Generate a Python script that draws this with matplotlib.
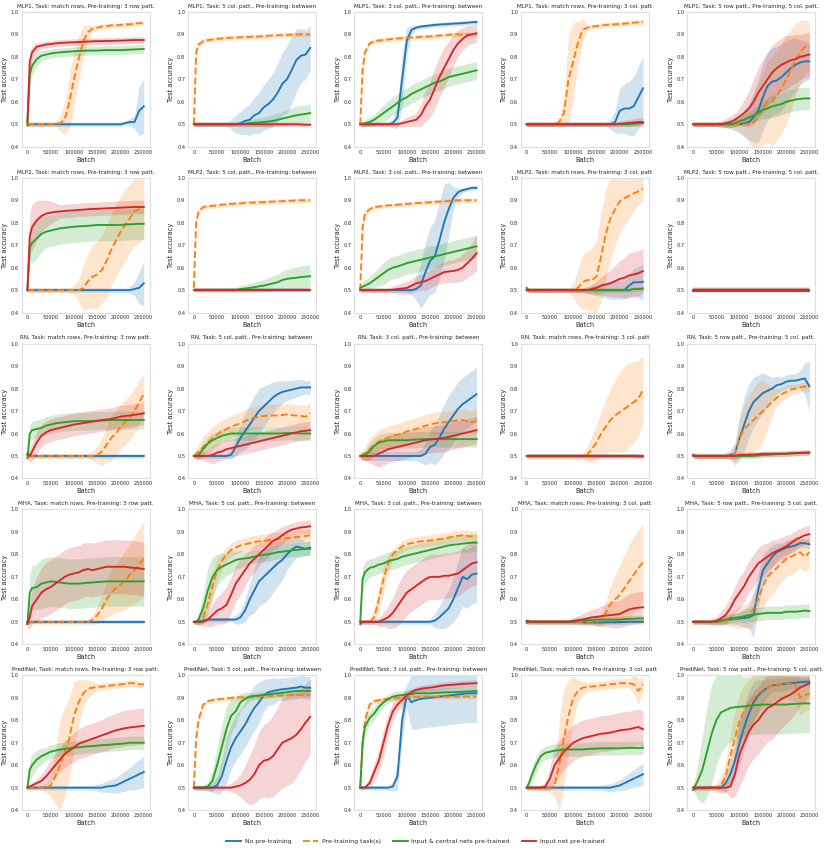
import matplotlib
matplotlib.use("Agg")
import matplotlib.pyplot as plt

batch = [0, 5000, 10000, 20000, 30000, 40000, 50000, 60000, 70000,
         80000, 90000, 100000, 110000, 120000, 130000, 140000, 150000, 160000,
         170000, 180000, 190000, 200000, 210000, 220000, 230000, 240000, 250000]

models = ["MLP1", "MLP2", "RN", "MHA", "PrediNet"]
tasks = ["Task: match rows, Pre-training: 3 row patt.",
         "Task: 5 col. patt., Pre-training: between",
         "Task: 3 col. patt., Pre-training: between",
         "Task: match rows, Pre-training: 3 col. patt",
         "Task: 5 row patt., Pre-training: 5 col. patt."]
series_names = ["No pre-training", "Pre-training task(s)",
                "Input & central nets pre-trained", "Input net pre-trained"]

# each panel: mean accuracy and band half-width for [blue, orange, green, red]
# ---------------- MLP1 ----------------
mlp1_t1_mean = [
    [.495, .5, .5, .5, .5, .5, .5, .5, .5, .5, .5, .5, .5, .5, .5, .5, .5, .5,
     .5, .5, .5, .5, .505, .51, .51, .56, .58],
    [.5, .5, .5, .5, .5, .5, .5, .5, .505, .52, .6, .7, .79, .87, .91, .925, .93, .935,
     .937, .94, .94, .942, .945, .945, .948, .95, .95],
    [.5, .72, .76, .79, .805, .81, .815, .818, .82, .822, .823, .825, .826, .827, .828, .828, .828, .829,
     .83, .83, .83, .83, .831, .832, .833, .834, .835],
    [.51, .78, .82, .845, .85, .855, .857, .86, .862, .863, .864, .865, .866, .867, .868, .869, .87, .87,
     .871, .871, .872, .872, .873, .874, .875, .875, .875]]
mlp1_t1_band = [
    [.01, .01, .01, .01, .01, .01, .01, .01, .01, .01, .01, .01, .01, .01, .01, .01, .01, .01,
     .01, .01, .01, .01, .01, .015, .03, .11, .12],
    [.01, .01, .01, .01, .01, .01, .01, .01, .03, .07, .12, .12, .1, .07, .03, .015, .01, .01,
     .01, .01, .01, .01, .01, .01, .01, .01, .01],
    [.01, .05, .04, .03, .025, .02, .02, .02, .02, .02, .02, .02, .02, .02, .02, .02, .02, .02,
     .02, .02, .02, .02, .02, .02, .02, .02, .02],
    [.01, .04, .03, .02, .015, .015, .015, .015, .015, .015, .015, .015, .015, .015, .015, .015, .015, .015,
     .015, .015, .015, .015, .015, .015, .015, .015, .015]]

mlp1_t2_mean = [
    [.5, .5, .5, .5, .5, .5, .5, .5, .5, .5, .5, .505, .515, .52, .54, .55, .575, .59,
     .61, .64, .68, .7, .74, .785, .805, .81, .84],
    [.5, .82, .855, .87, .875, .877, .88, .882, .884, .885, .886, .887, .888, .889, .89, .891, .892, .894,
     .895, .896, .897, .898, .899, .9, .9, .9, .9],
    [.5, .5, .5, .5, .5, .5, .5, .5, .5, .5, .5, .5, .502, .505, .507, .508, .51, .512,
     .515, .52, .525, .53, .535, .54, .543, .546, .55],
    [.5, .5, .5, .5, .5, .5, .5, .5, .5, .5, .5, .5, .5, .5, .5, .5, .5, .5,
     .5, .5, .5, .5, .5, .5, .499, .498, .498]]
mlp1_t2_band = [
    [.01, .01, .01, .01, .01, .01, .01, .01, .01, .02, .04, .05, .06, .07, .08, .09, .1, .11,
     .12, .13, .14, .15, .15, .14, .12, .11, .1],
    [.02, .02, .01, .01, .01, .01, .01, .01, .01, .01, .01, .01, .01, .01, .01, .01, .01, .01,
     .01, .01, .01, .01, .01, .01, .01, .01, .01],
    [.01, .01, .01, .01, .01, .01, .01, .01, .01, .01, .01, .012, .015, .015, .018, .02, .022, .025,
     .027, .03, .032, .035, .037, .04, .04, .04, .04],
    [.01, .01, .01, .01, .01, .01, .01, .01, .01, .01, .01, .01, .01, .01, .01, .01, .01, .01,
     .01, .01, .01, .01, .01, .01, .01, .01, .01]]

mlp1_t3_mean = [
    [.5, .5, .5, .5, .5, .5, .5, .5, .505, .53, .7, .87, .92, .93, .935, .937, .94, .942,
     .944, .945, .946, .948, .949, .95, .952, .954, .955],
    [.5, .74, .82, .86, .87, .873, .875, .877, .88, .882, .883, .885, .886, .887, .889, .89, .891, .893,
     .895, .896, .898, .9, .9, .9, .9, .9, .9],
    [.5, .502, .505, .51, .52, .535, .55, .565, .58, .595, .61, .62, .635, .645, .655, .665, .675, .685,
     .69, .7, .71, .715, .72, .725, .73, .735, .74],
    [.5, .5, .5, .5, .5, .5, .5, .5, .5, .5, .505, .51, .515, .52, .54, .58, .61, .66,
     .71, .75, .79, .83, .86, .88, .895, .9, .905]]
mlp1_t3_band = [
    [.01, .01, .01, .01, .01, .01, .01, .01, .02, .05, .12, .06, .02, .01, .01, .01, .01, .01,
     .01, .01, .01, .01, .01, .01, .01, .01, .01],
    [.015, .03, .015, .01, .01, .01, .01, .01, .01, .01, .01, .01, .01, .01, .01, .01, .01, .01,
     .01, .01, .01, .01, .01, .01, .01, .01, .01],
    [.01, .01, .015, .02, .025, .03, .035, .04, .04, .04, .04, .04, .04, .04, .04, .04, .04, .04,
     .04, .04, .04, .04, .04, .04, .04, .04, .04],
    [.01, .01, .01, .01, .01, .01, .01, .01, .01, .01, .015, .02, .025, .03, .05, .07, .08, .09,
     .09, .09, .08, .07, .06, .05, .045, .04, .04]]

mlp1_t4_mean = [
    [.5, .5, .5, .5, .5, .5, .5, .5, .5, .5, .5, .5, .5, .5, .5, .5, .5, .5,
     .5, .5, .51, .56, .57, .57, .58, .62, .66],
    [.5, .5, .5, .5, .5, .5, .5, .5, .51, .55, .7, .78, .86, .92, .93, .935, .937, .94,
     .942, .944, .945, .947, .948, .95, .952, .954, .955],
    [.5, .5, .5, .5, .5, .5, .5, .5, .5, .5, .5, .5, .5, .5, .5, .5, .5, .5,
     .5, .5, .5, .5, .5, .5, .502, .504, .505],
    [.5, .5, .5, .5, .5, .5, .5, .5, .5, .5, .5, .5, .5, .5, .5, .5, .5, .5,
     .5, .5, .5, .502, .504, .506, .508, .51, .51]]
mlp1_t4_band = [
    [.01, .01, .01, .01, .01, .01, .01, .01, .01, .01, .01, .01, .01, .01, .01, .01, .01, .01,
     .01, .02, .05, .1, .11, .12, .13, .14, .14],
    [.01, .01, .01, .01, .01, .01, .01, .01, .02, .06, .2, .17, .1, .05, .015, .01, .01, .01,
     .01, .01, .01, .01, .01, .01, .01, .01, .01],
    [.01, .01, .01, .01, .01, .01, .01, .01, .01, .01, .01, .01, .01, .01, .01, .01, .01, .01,
     .01, .01, .01, .01, .01, .01, .01, .01, .01],
    [.01, .01, .01, .01, .01, .01, .01, .01, .01, .01, .01, .01, .01, .01, .01, .01, .01, .01,
     .01, .01, .01, .012, .014, .016, .018, .02, .02]]

mlp1_t5_mean = [
    [.5, .5, .5, .5, .5, .5, .5, .5, .5, .5, .5, .5, .505, .51, .53, .56, .62, .67,
     .69, .695, .71, .73, .75, .765, .775, .78, .78],
    [.5, .5, .5, .5, .5, .5, .5, .5, .5, .5, .5, .5, .5, .5, .51, .53, .57, .6,
     .6, .63, .66, .7, .74, .79, .82, .845, .845],
    [.5, .5, .5, .5, .5, .5, .5, .5, .5, .5, .505, .515, .52, .53, .54, .55, .565, .57,
     .58, .585, .59, .6, .605, .61, .613, .615, .615],
    [.5, .5, .5, .5, .5, .5, .5, .5, .505, .51, .52, .535, .55, .57, .6, .64, .67, .7,
     .73, .75, .765, .775, .785, .79, .8, .805, .81]]
mlp1_t5_band = [
    [.01, .01, .01, .01, .01, .01, .01, .01, .015, .02, .03, .04, .06, .08, .11, .14, .15, .15,
     .15, .15, .15, .14, .13, .12, .1, .09, .08],
    [.01, .01, .01, .01, .01, .01, .01, .01, .01, .01, .02, .03, .05, .08, .12, .15, .16, .18,
     .2, .2, .2, .2, .18, .16, .14, .12, .11],
    [.01, .01, .01, .01, .01, .01, .01, .01, .015, .015, .015, .015, .02, .025, .03, .035, .04, .045,
     .05, .05, .05, .05, .05, .05, .05, .05, .05],
    [.01, .01, .01, .01, .01, .01, .01, .015, .02, .025, .03, .04, .06, .08, .1, .11, .12, .12,
     .12, .12, .12, .12, .11, .11, .1, .1, .1]]

# ---------------- MLP2 ----------------
mlp2_t1_mean = [
    [.5, .5, .5, .5, .5, .5, .5, .5, .5, .5, .5, .5, .5, .5, .5, .5, .5, .5,
     .5, .5, .5, .5, .5, .5, .505, .51, .53],
    [.5, .5, .5, .5, .5, .5, .5, .5, .5, .5, .5, .5, .5, .51, .54, .56, .57, .59,
     .63, .68, .72, .76, .79, .82, .85, .86, .87],
    [.5, .69, .71, .73, .75, .76, .765, .77, .775, .777, .78, .782, .784, .785, .786, .788, .79, .79,
     .79, .79, .79, .79, .792, .793, .794, .795, .795],
    [.5, .74, .78, .81, .83, .84, .845, .848, .85, .852, .854, .855, .857, .858, .86, .861, .862, .863,
     .864, .865, .866, .867, .868, .869, .87, .87, .87]]
mlp2_t1_band = [
    [.01, .01, .01, .01, .01, .01, .01, .01, .01, .01, .01, .01, .01, .01, .01, .01, .01, .01,
     .01, .01, .01, .01, .01, .015, .03, .07, .1],
    [.01, .01, .01, .01, .01, .01, .01, .01, .01, .01, .01, .02, .05, .1, .12, .14, .15, .15,
     .16, .16, .16, .16, .16, .15, .15, .15, .14],
    [.01, .06, .09, .09, .08, .07, .07, .07, .07, .07, .07, .07, .07, .07, .07, .07, .07, .07,
     .07, .07, .07, .07, .07, .07, .07, .07, .07],
    [.01, .1, .1, .09, .07, .06, .05, .04, .03, .03, .03, .03, .03, .03, .03, .03, .03, .03,
     .03, .03, .03, .03, .03, .03, .03, .03, .03]]

mlp2_t2_mean = [
    [.5, .5, .5, .5, .5, .5, .5, .5, .5, .5, .5, .5, .5, .5, .5, .5, .5, .5,
     .5, .5, .5, .5, .5, .5, .5, .5, .5],
    [.51, .8, .85, .87, .873, .875, .877, .88, .882, .884, .885, .886, .888, .889, .89, .891, .892, .893,
     .894, .895, .896, .897, .898, .899, .9, .9, .9],
    [.5, .5, .5, .5, .5, .5, .5, .5, .5, .5, .5, .505, .507, .51, .513, .517, .52, .525,
     .53, .535, .545, .55, .553, .555, .558, .56, .562],
    [.5, .5, .5, .5, .5, .5, .5, .5, .5, .5, .5, .5, .5, .5, .5, .5, .5, .5,
     .5, .5, .5, .5, .5, .5, .5, .5, .5]]
mlp2_t2_band = [
    [.01, .01, .01, .01, .01, .01, .01, .01, .01, .01, .01, .01, .01, .01, .01, .01, .01, .01,
     .01, .01, .01, .01, .01, .01, .01, .01, .01],
    [.02, .02, .01, .01, .01, .01, .01, .01, .01, .01, .01, .01, .01, .01, .01, .01, .01, .01,
     .01, .01, .01, .01, .01, .01, .01, .01, .01],
    [.01, .01, .01, .01, .01, .01, .01, .01, .01, .01, .012, .015, .017, .02, .022, .025, .028, .03,
     .033, .036, .04, .042, .045, .048, .05, .05, .05],
    [.01, .01, .01, .01, .01, .01, .01, .01, .01, .01, .01, .01, .01, .01, .01, .01, .01, .01,
     .01, .01, .01, .01, .01, .01, .01, .01, .01]]

mlp2_t3_mean = [
    [.5, .5, .5, .5, .5, .5, .5, .5, .5, .5, .5, .5, .5, .505, .52, .58, .63, .65,
     .72, .8, .86, .91, .935, .945, .95, .955, .955],
    [.5, .78, .84, .86, .87, .872, .875, .877, .878, .88, .882, .884, .885, .887, .888, .89, .891, .893,
     .894, .895, .897, .898, .9, .9, .9, .9, .9],
    [.51, .515, .52, .53, .545, .56, .575, .59, .6, .605, .612, .62, .625, .63, .635, .64, .645, .65,
     .655, .66, .665, .67, .675, .68, .685, .69, .695],
    [.5, .5, .5, .5, .5, .5, .5, .5, .502, .505, .507, .51, .52, .53, .535, .54, .55, .56,
     .57, .58, .583, .585, .59, .6, .62, .64, .665]]
mlp2_t3_band = [
    [.01, .01, .01, .01, .01, .01, .01, .01, .01, .01, .01, .01, .02, .05, .1, .13, .15, .16,
     .17, .17, .12, .05, .02, .01, .01, .01, .01],
    [.015, .03, .015, .01, .01, .01, .01, .01, .01, .01, .01, .01, .01, .01, .01, .01, .01, .01,
     .01, .01, .01, .01, .01, .01, .01, .01, .01],
    [.015, .02, .025, .03, .035, .04, .05, .05, .05, .05, .05, .05, .05, .05, .05, .05, .05, .05,
     .05, .05, .05, .05, .05, .05, .05, .05, .05],
    [.01, .01, .01, .01, .01, .01, .01, .01, .015, .02, .025, .03, .03, .035, .035, .04, .04, .04,
     .045, .045, .05, .05, .055, .06, .065, .07, .08]]

mlp2_t4_mean = [
    [.5, .5, .5, .5, .5, .5, .5, .5, .5, .5, .5, .5, .5, .5, .5, .5, .5, .5,
     .5, .5, .5, .5, .5, .52, .535, .535, .537],
    [.5, .5, .5, .5, .5, .5, .5, .5, .5, .5, .5, .5, .51, .535, .545, .545, .56, .65,
     .75, .82, .86, .895, .91, .92, .93, .94, .95],
    [.51, .5, .5, .5, .5, .5, .5, .5, .5, .5, .5, .5, .5, .5, .5, .5, .5, .5,
     .5, .5, .5, .5, .5, .5, .505, .505, .507],
    [.5, .5, .5, .5, .5, .5, .5, .5, .5, .5, .5, .5, .5, .5, .5, .505, .51, .52,
     .525, .53, .54, .55, .555, .565, .57, .575, .585]]
mlp2_t4_band = [
    [.01, .01, .01, .01, .01, .01, .01, .01, .01, .01, .01, .01, .01, .01, .015, .02, .025, .03,
     .035, .04, .04, .04, .04, .05, .06, .07, .08],
    [.01, .01, .01, .01, .01, .01, .01, .01, .01, .01, .01, .03, .08, .12, .13, .14, .16, .2,
     .2, .18, .16, .14, .12, .1, .08, .06, .05],
    [.01, .01, .01, .01, .01, .01, .01, .01, .01, .01, .01, .01, .01, .01, .01, .01, .01, .01,
     .01, .01, .01, .01, .01, .01, .01, .01, .01],
    [.01, .01, .01, .01, .01, .01, .01, .01, .01, .01, .01, .01, .01, .01, .015, .02, .03, .04,
     .05, .06, .07, .08, .09, .1, .1, .1, .1]]

mlp2_t5_mean = [
    [.498, .498, .498, .498, .498, .498, .498, .498, .498, .498, .498, .498, .498, .498, .498, .498, .498, .498,
     .498, .498, .498, .498, .498, .498, .498, .498, .498],
    [.5, .5, .5, .5, .5, .5, .5, .5, .5, .5, .5, .5, .5, .5, .5, .5, .5, .5,
     .5, .5, .5, .5, .5, .5, .5, .5, .5],
    [.502, .502, .502, .502, .502, .502, .502, .502, .502, .502, .502, .502, .502, .502, .502, .502, .502, .502,
     .502, .502, .502, .502, .502, .502, .502, .502, .502],
    [.5, .5, .5, .5, .5, .5, .5, .5, .5, .5, .5, .5, .5, .5, .5, .5, .5, .5,
     .5, .5, .5, .5, .5, .5, .5, .5, .5]]
mlp2_t5_band = [
    [.01, .01, .01, .01, .01, .01, .01, .01, .01, .01, .01, .01, .01, .01, .01, .01, .01, .01,
     .01, .01, .01, .01, .01, .01, .01, .01, .01],
    [.01, .01, .01, .01, .01, .01, .01, .01, .01, .01, .01, .01, .01, .01, .01, .01, .01, .01,
     .01, .01, .01, .01, .01, .01, .01, .01, .01],
    [.01, .01, .01, .01, .01, .01, .01, .01, .01, .01, .01, .01, .01, .01, .01, .01, .01, .01,
     .01, .01, .01, .01, .01, .01, .01, .01, .01],
    [.01, .01, .01, .01, .01, .01, .01, .01, .01, .01, .01, .01, .01, .01, .01, .01, .01, .01,
     .01, .01, .01, .01, .01, .01, .01, .01, .01]]

# ---------------- RN ----------------
rn_t1_mean = [
    [.505, .505, .5, .5, .5, .5, .5, .5, .5, .5, .5, .5, .5, .5, .5, .5, .5, .5,
     .5, .5, .5, .5, .5, .5, .5, .5, .5],
    [.5, .5, .5, .5, .5, .5, .5, .5, .5, .5, .5, .5, .5, .5, .5, .5, .505, .52,
     .55, .58, .6, .63, .65, .67, .7, .74, .775],
    [.49, .6, .615, .62, .625, .635, .64, .645, .648, .65, .652, .655, .655, .655, .655, .656, .657, .658,
     .659, .66, .66, .66, .66, .66, .66, .66, .66],
    [.51, .5, .52, .56, .59, .605, .615, .62, .625, .63, .635, .64, .643, .646, .65, .653, .656, .66,
     .662, .665, .67, .675, .678, .68, .683, .686, .69]]
rn_t1_band = [
    [.01, .01, .01, .01, .01, .01, .01, .01, .01, .01, .01, .01, .01, .01, .01, .01, .01, .01,
     .01, .01, .01, .01, .01, .01, .01, .01, .01],
    [.01, .01, .01, .01, .01, .01, .01, .01, .01, .01, .01, .01, .01, .01, .01, .02, .04, .06,
     .08, .1, .1, .1, .1, .1, .1, .095, .09],
    [.02, .04, .04, .04, .04, .04, .04, .04, .04, .04, .04, .04, .04, .04, .04, .04, .04, .04,
     .04, .04, .04, .04, .04, .04, .04, .04, .04],
    [.02, .03, .04, .05, .05, .05, .05, .05, .05, .05, .05, .05, .05, .05, .05, .05, .05, .05,
     .05, .05, .05, .05, .05, .05, .05, .05, .05]]

rn_t2_mean = [
    [.5, .5, .5, .5, .5, .5, .5, .5, .5, .505, .54, .58, .61, .64, .67, .7, .72, .74,
     .76, .775, .785, .79, .795, .8, .805, .805, .805],
    [.5, .51, .52, .54, .56, .58, .595, .61, .62, .63, .638, .645, .655, .665, .67, .675, .678, .68,
     .68, .68, .682, .685, .682, .68, .678, .675, .69],
    [.5, .5, .505, .53, .555, .57, .58, .59, .595, .6, .6, .6, .6, .6, .6, .6, .6, .6,
     .6, .6, .601, .602, .602, .601, .6, .6, .6],
    [.5, .5, .5, .5, .5, .505, .515, .52, .53, .535, .54, .545, .55, .555, .56, .565, .57, .575,
     .58, .585, .59, .595, .6, .605, .61, .612, .615]]
rn_t2_band = [
    [.01, .01, .01, .01, .01, .01, .01, .01, .01, .02, .04, .06, .08, .09, .1, .1, .09, .08,
     .07, .06, .05, .045, .04, .04, .035, .03, .03],
    [.01, .02, .03, .05, .05, .05, .05, .05, .05, .05, .05, .05, .05, .05, .05, .05, .05, .05,
     .05, .05, .05, .05, .05, .05, .05, .05, .05],
    [.01, .01, .02, .03, .03, .03, .03, .03, .03, .03, .03, .03, .03, .03, .03, .03, .03, .03,
     .03, .03, .03, .03, .03, .03, .03, .03, .03],
    [.01, .01, .015, .02, .025, .04, .04, .04, .04, .04, .04, .04, .04, .04, .04, .04, .04, .04,
     .04, .04, .04, .04, .04, .04, .04, .04, .04]]

rn_t3_mean = [
    [.5, .5, .5, .5, .5, .5, .5, .5, .5, .5, .5, .5, .5, .5, .5, .51, .54, .55,
     .58, .62, .65, .68, .71, .73, .745, .76, .775],
    [.5, .505, .51, .53, .55, .565, .575, .582, .59, .595, .6, .61, .615, .62, .628, .635, .64, .645,
     .648, .65, .652, .655, .658, .66, .655, .65, .655],
    [.5, .5, .505, .52, .545, .56, .565, .57, .57, .57, .57, .57, .572, .573, .574, .575, .575, .575,
     .575, .575, .575, .575, .575, .575, .575, .575, .575],
    [.5, .5, .5, .5, .5, .51, .52, .53, .535, .54, .545, .55, .555, .56, .565, .57, .573, .575,
     .578, .58, .585, .59, .595, .6, .605, .61, .615]]
rn_t3_band = [
    [.02, .02, .02, .02, .02, .02, .02, .02, .02, .02, .02, .02, .02, .02, .03, .05, .07, .09,
     .1, .11, .12, .12, .12, .12, .12, .12, .12],
    [.01, .02, .03, .05, .05, .05, .05, .05, .05, .05, .05, .05, .05, .05, .05, .05, .05, .05,
     .05, .05, .05, .05, .05, .05, .05, .05, .05],
    [.01, .01, .02, .035, .035, .035, .035, .035, .035, .035, .035, .035, .035, .035, .035, .035, .035, .035,
     .035, .035, .035, .035, .035, .035, .035, .035, .035],
    [.01, .015, .02, .03, .04, .06, .06, .06, .06, .06, .06, .06, .06, .06, .06, .06, .06, .06,
     .06, .06, .06, .06, .06, .06, .06, .06, .06]]

rn_t4_mean = [
    [.5, .5, .5, .5, .5, .5, .5, .5, .5, .5, .5, .5, .5, .5, .5, .5, .5, .5,
     .5, .5, .5, .5, .5, .5, .5, .5, .5],
    [.5, .5, .5, .5, .5, .5, .5, .5, .5, .5, .5, .5, .5, .5, .505, .53, .56, .6,
     .63, .66, .68, .695, .71, .725, .74, .755, .795],
    [.5, .5, .5, .5, .5, .5, .5, .5, .5, .5, .5, .5, .5, .5, .5, .5, .5, .5,
     .5, .5, .5, .5, .5, .5, .5, .5, .5],
    [.5, .5, .5, .5, .5, .5, .5, .5, .5, .5, .5, .5, .5, .5, .5, .5, .5, .5,
     .5, .5, .5, .5, .5, .5, .5, .498, .498]]
rn_t4_band = [
    [.01, .01, .01, .01, .01, .01, .01, .01, .01, .01, .01, .01, .01, .01, .01, .01, .01, .01,
     .01, .01, .01, .01, .01, .01, .01, .01, .01],
    [.01, .01, .01, .01, .01, .01, .01, .01, .01, .01, .01, .01, .01, .015, .03, .06, .08, .1,
     .12, .14, .16, .18, .19, .19, .18, .17, .15],
    [.01, .01, .01, .01, .01, .01, .01, .01, .01, .01, .01, .01, .01, .01, .01, .01, .01, .01,
     .01, .01, .01, .01, .01, .01, .01, .01, .01],
    [.01, .01, .01, .01, .01, .01, .01, .01, .01, .01, .01, .01, .01, .01, .01, .01, .01, .01,
     .01, .01, .01, .01, .01, .01, .01, .01, .01]]

rn_t5_mean = [
    [.5, .5, .5, .5, .5, .5, .5, .5, .5, .505, .51, .58, .64, .7, .74, .76, .78, .79,
     .8, .815, .82, .83, .835, .835, .84, .845, .81],
    [.5, .5, .5, .5, .5, .5, .5, .5, .5, .505, .51, .58, .62, .64, .66, .68, .7, .72,
     .74, .76, .775, .785, .795, .8, .805, .81, .805],
    [.5, .5, .5, .5, .5, .5, .5, .5, .5, .5, .5, .5, .5, .5, .5, .502, .505, .505,
     .507, .508, .51, .51, .511, .512, .513, .514, .515],
    [.505, .5, .5, .5, .5, .5, .5, .5, .5, .5, .5, .505, .505, .506, .507, .508, .51, .51,
     .51, .51, .51, .51, .512, .513, .514, .515, .515]]
rn_t5_band = [
    [.01, .01, .01, .01, .01, .01, .01, .01, .01, .02, .05, .1, .12, .12, .11, .1, .09, .07,
     .05, .04, .03, .03, .03, .03, .04, .07, .11],
    [.01, .01, .01, .01, .01, .01, .01, .01, .01, .02, .04, .08, .11, .13, .14, .15, .14, .1,
     .06, .04, .03, .03, .025, .02, .02, .02, .02],
    [.012, .012, .012, .012, .012, .012, .012, .012, .012, .012, .012, .012, .012, .012, .012, .012, .012, .012,
     .012, .012, .012, .012, .012, .012, .012, .012, .012],
    [.012, .012, .012, .012, .012, .012, .012, .012, .012, .012, .012, .012, .012, .012, .012, .012, .012, .012,
     .012, .012, .012, .012, .012, .012, .012, .012, .012]]

# ---------------- MHA ----------------
mha_t1_mean = [
    [.5, .5, .5, .5, .5, .5, .5, .5, .5, .5, .5, .5, .5, .5, .5, .5, .5, .5,
     .5, .5, .5, .5, .5, .5, .5, .5, .5],
    [.5, .5, .5, .5, .5, .5, .5, .5, .5, .5, .5, .5, .5, .5, .5, .51, .53, .56,
     .6, .63, .65, .665, .685, .71, .73, .755, .78],
    [.49, .63, .65, .655, .67, .675, .68, .678, .675, .672, .67, .67, .67, .672, .674, .675, .677, .678,
     .68, .68, .68, .68, .68, .68, .68, .68, .68],
    [.49, .52, .57, .6, .63, .645, .655, .67, .685, .7, .71, .715, .72, .73, .735, .73, .735, .74,
     .745, .745, .745, .745, .745, .742, .74, .738, .735]]
mha_t1_band = [
    [.01, .01, .01, .01, .01, .01, .01, .01, .01, .01, .01, .01, .01, .01, .01, .01, .01, .01,
     .01, .01, .01, .01, .01, .01, .01, .01, .01],
    [.01, .01, .01, .01, .01, .01, .01, .01, .01, .01, .01, .01, .01, .01, .01, .02, .04, .06,
     .08, .1, .11, .12, .13, .14, .15, .16, .17],
    [.02, .08, .1, .1, .11, .11, .11, .11, .11, .11, .11, .11, .11, .11, .11, .11, .11, .11,
     .11, .11, .11, .11, .11, .11, .11, .11, .11],
    [.02, .05, .08, .1, .11, .12, .12, .12, .12, .12, .12, .12, .12, .12, .12, .12, .12, .12,
     .12, .12, .12, .12, .12, .12, .12, .12, .12]]

mha_t2_mean = [
    [.5, .5, .5, .505, .51, .51, .51, .51, .51, .51, .51, .52, .55, .6, .64, .68, .7, .72,
     .74, .76, .775, .8, .82, .835, .83, .825, .83],
    [.5, .5, .505, .52, .58, .66, .73, .77, .8, .82, .83, .84, .845, .85, .855, .858, .86, .863,
     .865, .868, .87, .872, .875, .877, .88, .882, .885],
    [.5, .5, .51, .56, .64, .7, .73, .745, .755, .765, .775, .78, .782, .785, .79, .795, .798, .8,
     .805, .81, .812, .815, .818, .82, .822, .824, .825],
    [.5, .5, .5, .5, .51, .53, .55, .56, .575, .62, .67, .7, .73, .76, .78, .8, .82, .84,
     .86, .87, .885, .9, .91, .915, .92, .922, .925]]
mha_t2_band = [
    [.01, .01, .01, .01, .01, .01, .01, .01, .01, .01, .02, .03, .05, .07, .1, .11, .12, .12,
     .11, .1, .09, .07, .06, .05, .04, .03, .03],
    [.01, .01, .02, .03, .05, .06, .05, .04, .03, .03, .03, .03, .03, .03, .03, .03, .03, .03,
     .03, .03, .03, .03, .03, .03, .03, .03, .03],
    [.01, .01, .03, .06, .1, .09, .07, .06, .05, .05, .04, .04, .03, .03, .03, .03, .03, .03,
     .03, .03, .03, .03, .03, .03, .03, .03, .03],
    [.01, .01, .01, .02, .03, .05, .06, .07, .08, .08, .08, .08, .07, .06, .06, .05, .05, .05,
     .04, .04, .04, .03, .03, .03, .03, .03, .03]]

mha_t3_mean = [
    [.49, .5, .5, .5, .5, .5, .5, .5, .5, .5, .5, .5, .5, .5, .5, .5, .5, .505,
     .52, .54, .56, .6, .65, .7, .69, .71, .715],
    [.5, .5, .5, .5, .52, .6, .69, .76, .8, .82, .835, .845, .85, .855, .858, .86, .862, .865,
     .868, .87, .875, .88, .883, .885, .882, .88, .88],
    [.5, .69, .72, .74, .745, .755, .76, .77, .775, .78, .79, .795, .8, .805, .81, .815, .82, .825,
     .83, .835, .84, .843, .845, .848, .85, .852, .852],
    [.5, .5, .5, .5, .5, .5, .51, .52, .54, .57, .6, .63, .645, .66, .675, .69, .7, .7,
     .7, .705, .705, .71, .715, .73, .745, .76, .765]]
mha_t3_band = [
    [.01, .01, .01, .01, .01, .01, .01, .01, .01, .01, .01, .01, .01, .01, .01, .01, .01, .03,
     .05, .07, .08, .1, .12, .13, .13, .13, .13],
    [.01, .01, .01, .015, .03, .05, .06, .04, .025, .025, .025, .025, .025, .025, .025, .025, .025, .025,
     .025, .025, .025, .025, .025, .025, .025, .025, .025],
    [.01, .05, .05, .04, .04, .04, .04, .04, .04, .04, .04, .04, .04, .04, .04, .04, .04, .04,
     .04, .04, .04, .04, .04, .04, .04, .04, .04],
    [.01, .01, .01, .01, .01, .02, .03, .05, .07, .09, .1, .1, .1, .1, .1, .1, .1, .1,
     .1, .1, .1, .1, .1, .1, .1, .1, .1]]

mha_t4_mean = [
    [.5, .5, .5, .5, .5, .5, .5, .5, .5, .5, .5, .5, .5, .498, .497, .497, .497, .497,
     .498, .498, .498, .499, .499, .5, .5, .5, .5],
    [.5, .5, .5, .5, .5, .5, .5, .5, .5, .5, .5, .5, .5, .5, .5, .5, .5, .51,
     .54, .58, .6, .62, .65, .68, .71, .74, .765],
    [.495, .5, .5, .5, .5, .5, .5, .5, .5, .5, .5, .5, .505, .506, .507, .508, .51, .51,
     .51, .51, .51, .51, .512, .513, .514, .515, .515],
    [.505, .502, .5, .5, .5, .5, .5, .5, .5, .5, .5, .505, .507, .51, .515, .52, .522, .525,
     .528, .53, .532, .535, .545, .555, .56, .563, .565]]
mha_t4_band = [
    [.01, .01, .01, .01, .01, .01, .01, .01, .01, .01, .01, .01, .01, .01, .01, .01, .01, .01,
     .01, .01, .01, .01, .01, .01, .01, .01, .01],
    [.01, .01, .01, .01, .01, .01, .01, .01, .01, .01, .01, .01, .01, .01, .01, .01, .02, .03,
     .05, .08, .11, .13, .15, .16, .17, .17, .17],
    [.01, .01, .01, .01, .01, .01, .01, .01, .01, .01, .01, .01, .015, .015, .015, .015, .015, .015,
     .015, .015, .015, .015, .015, .015, .015, .015, .015],
    [.01, .01, .01, .01, .01, .01, .01, .01, .01, .01, .01, .015, .02, .025, .03, .035, .04, .045,
     .05, .055, .06, .06, .065, .07, .07, .07, .07]]

mha_t5_mean = [
    [.5, .5, .5, .5, .5, .5, .5, .505, .507, .51, .512, .515, .517, .52, .53, .64, .73, .76,
     .79, .81, .82, .83, .835, .84, .85, .85, .845],
    [.5, .5, .5, .5, .5, .5, .5, .5, .505, .51, .515, .52, .525, .53, .56, .6, .66, .7,
     .72, .74, .76, .78, .79, .8, .81, .79, .81],
    [.5, .5, .5, .5, .5, .5, .5, .505, .51, .515, .518, .52, .525, .53, .532, .535, .537, .54,
     .54, .54, .54, .545, .545, .545, .547, .55, .548],
    [.5, .5, .5, .5, .5, .5, .505, .515, .53, .56, .6, .63, .66, .7, .73, .76, .775, .79,
     .805, .815, .825, .835, .85, .865, .875, .885, .89]]
mha_t5_band = [
    [.01, .01, .01, .01, .01, .01, .01, .01, .015, .02, .025, .03, .04, .05, .1, .08, .07, .06,
     .05, .04, .03, .03, .03, .025, .02, .02, .02],
    [.01, .01, .01, .01, .01, .01, .01, .01, .02, .03, .04, .05, .05, .06, .07, .08, .1, .1,
     .1, .09, .08, .08, .08, .08, .07, .07, .07],
    [.01, .01, .01, .01, .01, .01, .01, .02, .02, .02, .02, .02, .03, .03, .03, .03, .03, .03,
     .03, .03, .03, .03, .03, .03, .03, .03, .03],
    [.01, .01, .01, .01, .01, .015, .02, .03, .04, .05, .06, .07, .07, .07, .07, .07, .07, .06,
     .06, .05, .05, .05, .04, .04, .04, .04, .04]]

# ---------------- PrediNet ----------------
pred_t1_mean = [
    [.5, .5, .5, .5, .5, .5, .5, .5, .5, .5, .5, .5, .5, .5, .5, .5, .5, .5,
     .505, .507, .51, .52, .53, .54, .55, .56, .57],
    [.5, .5, .5, .5, .5, .5, .51, .55, .6, .66, .72, .82, .88, .92, .94, .945, .948, .95,
     .952, .955, .957, .96, .962, .965, .965, .96, .96],
    [.5, .58, .6, .625, .64, .65, .66, .665, .67, .672, .675, .677, .68, .682, .684, .685, .687, .689,
     .69, .692, .694, .695, .697, .7, .7, .7, .7],
    [.5, .505, .51, .52, .53, .55, .575, .6, .625, .65, .665, .68, .695, .703, .71, .718, .725, .733,
     .74, .748, .755, .76, .765, .768, .77, .773, .775]]
pred_t1_band = [
    [.01, .01, .01, .01, .01, .01, .01, .01, .01, .01, .01, .01, .01, .01, .01, .01, .015, .02,
     .025, .03, .035, .04, .045, .05, .06, .065, .07],
    [.01, .01, .01, .01, .01, .02, .05, .12, .2, .2, .18, .15, .1, .06, .04, .03, .015, .015,
     .015, .015, .015, .015, .015, .015, .015, .015, .015],
    [.01, .04, .05, .04, .035, .03, .03, .03, .03, .03, .03, .03, .03, .03, .03, .03, .03, .03,
     .03, .03, .03, .03, .03, .03, .03, .03, .03],
    [.01, .01, .015, .02, .03, .04, .05, .05, .055, .06, .06, .065, .065, .07, .07, .07, .07, .07,
     .075, .075, .075, .08, .08, .08, .08, .08, .08]]

pred_t2_mean = [
    [.5, .5, .5, .5, .5, .5, .51, .55, .62, .68, .72, .75, .78, .82, .855, .88, .91, .925,
     .93, .935, .938, .94, .943, .945, .95, .945, .945],
    [.5, .72, .8, .87, .885, .89, .893, .895, .897, .9, .901, .902, .903, .904, .905, .906, .907, .908,
     .909, .91, .91, .911, .912, .912, .912, .912, .912],
    [.5, .5, .5, .5, .505, .53, .6, .68, .76, .82, .84, .88, .895, .905, .908, .91, .913, .915,
     .918, .92, .922, .925, .928, .93, .93, .93, .93],
    [.5, .5, .5, .5, .5, .5, .5, .5, .5, .5, .505, .51, .52, .535, .56, .6, .62, .625,
     .64, .67, .7, .71, .72, .735, .76, .79, .815]]
pred_t2_band = [
    [.01, .01, .01, .01, .01, .02, .04, .07, .1, .1, .1, .1, .1, .1, .1, .09, .07, .06,
     .06, .05, .05, .05, .05, .05, .05, .05, .05],
    [.02, .03, .02, .01, .01, .01, .01, .01, .01, .01, .01, .01, .01, .01, .01, .01, .01, .01,
     .01, .01, .01, .01, .01, .01, .01, .01, .01],
    [.01, .01, .01, .01, .02, .05, .08, .1, .1, .08, .06, .04, .03, .02, .015, .015, .015, .015,
     .015, .015, .015, .015, .015, .015, .015, .015, .015],
    [.01, .01, .01, .01, .01, .01, .01, .01, .01, .02, .03, .05, .08, .11, .13, .15, .16, .17,
     .18, .19, .2, .2, .2, .19, .18, .17, .17]]

pred_t3_mean = [
    [.5, .5, .5, .5, .5, .5, .5, .5, .505, .55, .8, .91, .88, .89, .895, .898, .9, .902,
     .905, .907, .91, .912, .915, .917, .92, .92, .92],
    [.5, .7, .8, .87, .885, .89, .893, .895, .897, .9, .9, .902, .903, .904, .905, .905, .905, .905,
     .905, .905, .905, .905, .905, .905, .905, .905, .905],
    [.5, .7, .77, .81, .83, .86, .88, .895, .905, .91, .912, .915, .917, .92, .92, .92, .92, .922,
     .923, .924, .925, .925, .926, .927, .928, .929, .93],
    [.5, .5, .5, .52, .57, .62, .7, .78, .84, .87, .89, .91, .925, .935, .94, .943, .945, .948,
     .952, .955, .957, .958, .96, .962, .963, .964, .965]]
pred_t3_band = [
    [.01, .01, .01, .01, .01, .01, .01, .01, .02, .06, .1, .05, .12, .13, .13, .13, .13, .13,
     .13, .13, .13, .13, .13, .13, .13, .13, .13],
    [.02, .03, .02, .01, .01, .01, .01, .01, .01, .01, .01, .01, .01, .01, .01, .01, .01, .01,
     .01, .01, .01, .01, .01, .01, .01, .01, .01],
    [.02, .05, .04, .03, .03, .03, .02, .02, .02, .02, .02, .02, .02, .02, .02, .02, .02, .02,
     .02, .02, .02, .02, .02, .02, .02, .02, .02],
    [.01, .01, .01, .02, .04, .05, .06, .05, .04, .03, .03, .02, .015, .015, .015, .015, .015, .015,
     .015, .015, .015, .015, .015, .015, .015, .015, .015]]

pred_t4_mean = [
    [.5, .5, .5, .5, .5, .5, .5, .5, .5, .5, .5, .5, .5, .5, .5, .5, .5, .5,
     .5, .5, .505, .51, .52, .53, .54, .55, .56],
    [.5, .5, .5, .5, .5, .5, .5, .51, .6, .72, .82, .9, .93, .945, .948, .95, .952, .955,
     .957, .96, .962, .965, .965, .965, .96, .93, .96],
    [.5, .52, .55, .6, .64, .655, .66, .665, .667, .67, .67, .67, .67, .67, .672, .673, .674, .675,
     .675, .675, .675, .675, .676, .677, .677, .677, .677],
    [.5, .5, .5, .5, .5, .505, .54, .6, .63, .66, .68, .7, .71, .72, .725, .73, .735, .74,
     .742, .745, .75, .755, .758, .76, .765, .77, .76]]
pred_t4_band = [
    [.01, .01, .01, .01, .01, .01, .01, .01, .01, .01, .01, .01, .01, .01, .01, .01, .01, .012,
     .015, .018, .02, .025, .03, .035, .04, .045, .05],
    [.01, .01, .01, .01, .01, .01, .02, .05, .2, .22, .16, .1, .05, .03, .02, .02, .02, .02,
     .02, .02, .02, .02, .02, .02, .04, .06, .03],
    [.01, .02, .03, .04, .03, .03, .03, .03, .03, .03, .03, .03, .03, .03, .03, .03, .03, .03,
     .03, .03, .03, .03, .03, .03, .03, .03, .03],
    [.01, .01, .01, .01, .01, .02, .05, .08, .08, .08, .08, .08, .08, .08, .08, .08, .08, .08,
     .08, .08, .08, .08, .08, .08, .08, .08, .08]]

pred_t5_mean = [
    [.49, .495, .5, .5, .5, .5, .5, .5, .52, .56, .62, .7, .77, .83, .88, .91, .93, .945,
     .955, .958, .96, .963, .965, .967, .97, .971, .972],
    [.5, .5, .5, .5, .5, .5, .5, .51, .55, .64, .72, .8, .84, .87, .9, .92, .935, .945,
     .955, .96, .962, .965, .96, .96, .9, .91, .92],
    [.5, .51, .53, .58, .66, .74, .8, .835, .845, .855, .858, .86, .862, .865, .867, .868, .87, .87,
     .87, .87, .87, .87, .872, .873, .874, .875, .875],
    [.5, .5, .5, .5, .5, .5, .5, .5, .5, .505, .56, .65, .7, .75, .78, .8, .83, .855,
     .865, .88, .895, .905, .915, .93, .945, .955, .965]]
pred_t5_band = [
    [.01, .01, .01, .01, .01, .01, .01, .02, .04, .06, .08, .1, .1, .1, .09, .07, .05, .04,
     .03, .03, .03, .03, .025, .025, .02, .02, .02],
    [.01, .01, .01, .01, .01, .01, .02, .04, .07, .1, .12, .12, .12, .11, .1, .09, .08, .07,
     .07, .07, .07, .07, .07, .08, .08, .07, .07],
    [.01, .04, .08, .15, .2, .22, .2, .18, .16, .15, .14, .14, .13, .13, .13, .13, .13, .13,
     .13, .13, .13, .13, .13, .13, .13, .13, .13],
    [.01, .01, .01, .01, .01, .01, .01, .01, .02, .05, .1, .14, .15, .15, .15, .15, .15, .15,
     .15, .14, .13, .12, .11, .1, .08, .07, .06]]

panel_means = [
    [mlp1_t1_mean, mlp1_t2_mean, mlp1_t3_mean, mlp1_t4_mean, mlp1_t5_mean],
    [mlp2_t1_mean, mlp2_t2_mean, mlp2_t3_mean, mlp2_t4_mean, mlp2_t5_mean],
    [rn_t1_mean, rn_t2_mean, rn_t3_mean, rn_t4_mean, rn_t5_mean],
    [mha_t1_mean, mha_t2_mean, mha_t3_mean, mha_t4_mean, mha_t5_mean],
    [pred_t1_mean, pred_t2_mean, pred_t3_mean, pred_t4_mean, pred_t5_mean]]
panel_bands = [
    [mlp1_t1_band, mlp1_t2_band, mlp1_t3_band, mlp1_t4_band, mlp1_t5_band],
    [mlp2_t1_band, mlp2_t2_band, mlp2_t3_band, mlp2_t4_band, mlp2_t5_band],
    [rn_t1_band, rn_t2_band, rn_t3_band, rn_t4_band, rn_t5_band],
    [mha_t1_band, mha_t2_band, mha_t3_band, mha_t4_band, mha_t5_band],
    [pred_t1_band, pred_t2_band, pred_t3_band, pred_t4_band, pred_t5_band]]

colors = ["#1f77b4", "#ff7f0e", "#2ca02c", "#d62728"]
styles = ["-", "--", "-", "-"]

plt.rcParams["text.color"] = "0.15"
plt.rcParams["axes.labelcolor"] = "0.15"
plt.rcParams["xtick.color"] = "0.15"
plt.rcParams["ytick.color"] = "0.15"

fig, axes = plt.subplots(5, 5, figsize=(8.31, 8.51), dpi=100)
fig.subplots_adjust(left=0.026, right=0.981, top=0.986, bottom=0.048,
                    wspace=0.30, hspace=0.23)

handles = []
for i in range(5):
    for j in range(5):
        ax = axes[i][j]
        for k in range(4):
            m = panel_means[i][j][k]
            b = panel_bands[i][j][k]
            if len(m) != len(batch) or len(b) != len(batch):
                raise ValueError(f"bad length {models[i]} {j} {k}: {len(m)} {len(b)}")
            lo = [m[n] - b[n] for n in range(len(m))]
            hi = [m[n] + b[n] for n in range(len(m))]
            ax.fill_between(batch, lo, hi, color=colors[k], alpha=0.2, linewidth=0)
            line, = ax.plot(batch, m, color=colors[k], linestyle=styles[k],
                            linewidth=1.35, label=series_names[k])
            if i == 0 and j == 0:
                handles.append(line)
        ax.set_ylim(0.4, 1.0)
        ax.set_yticks([0.4, 0.5, 0.6, 0.7, 0.8, 0.9, 1.0])
        ax.set_xticks([0, 50000, 100000, 150000, 200000, 250000])
        ax.ticklabel_format(axis="x", style="plain")
        ax.tick_params(labelsize=3.6, length=0, pad=2)
        for s in ax.spines.values():
            s.set_color("0.87")
            s.set_linewidth(0.8)
        ax.set_title(models[i] + ", " + tasks[j], fontsize=4.1, pad=3)
        ax.set_xlabel("Batch", fontsize=4.8, labelpad=1.5)
        ax.set_ylabel("Test accuracy", fontsize=4.8, labelpad=2)

fig.legend(handles, series_names, loc="center", bbox_to_anchor=(0.5, 0.011),
           ncol=4, frameon=False, fontsize=4.4, handlelength=2.4,
           handletextpad=0.6, columnspacing=2.0)

plt.savefig("out.png", dpi=100)
